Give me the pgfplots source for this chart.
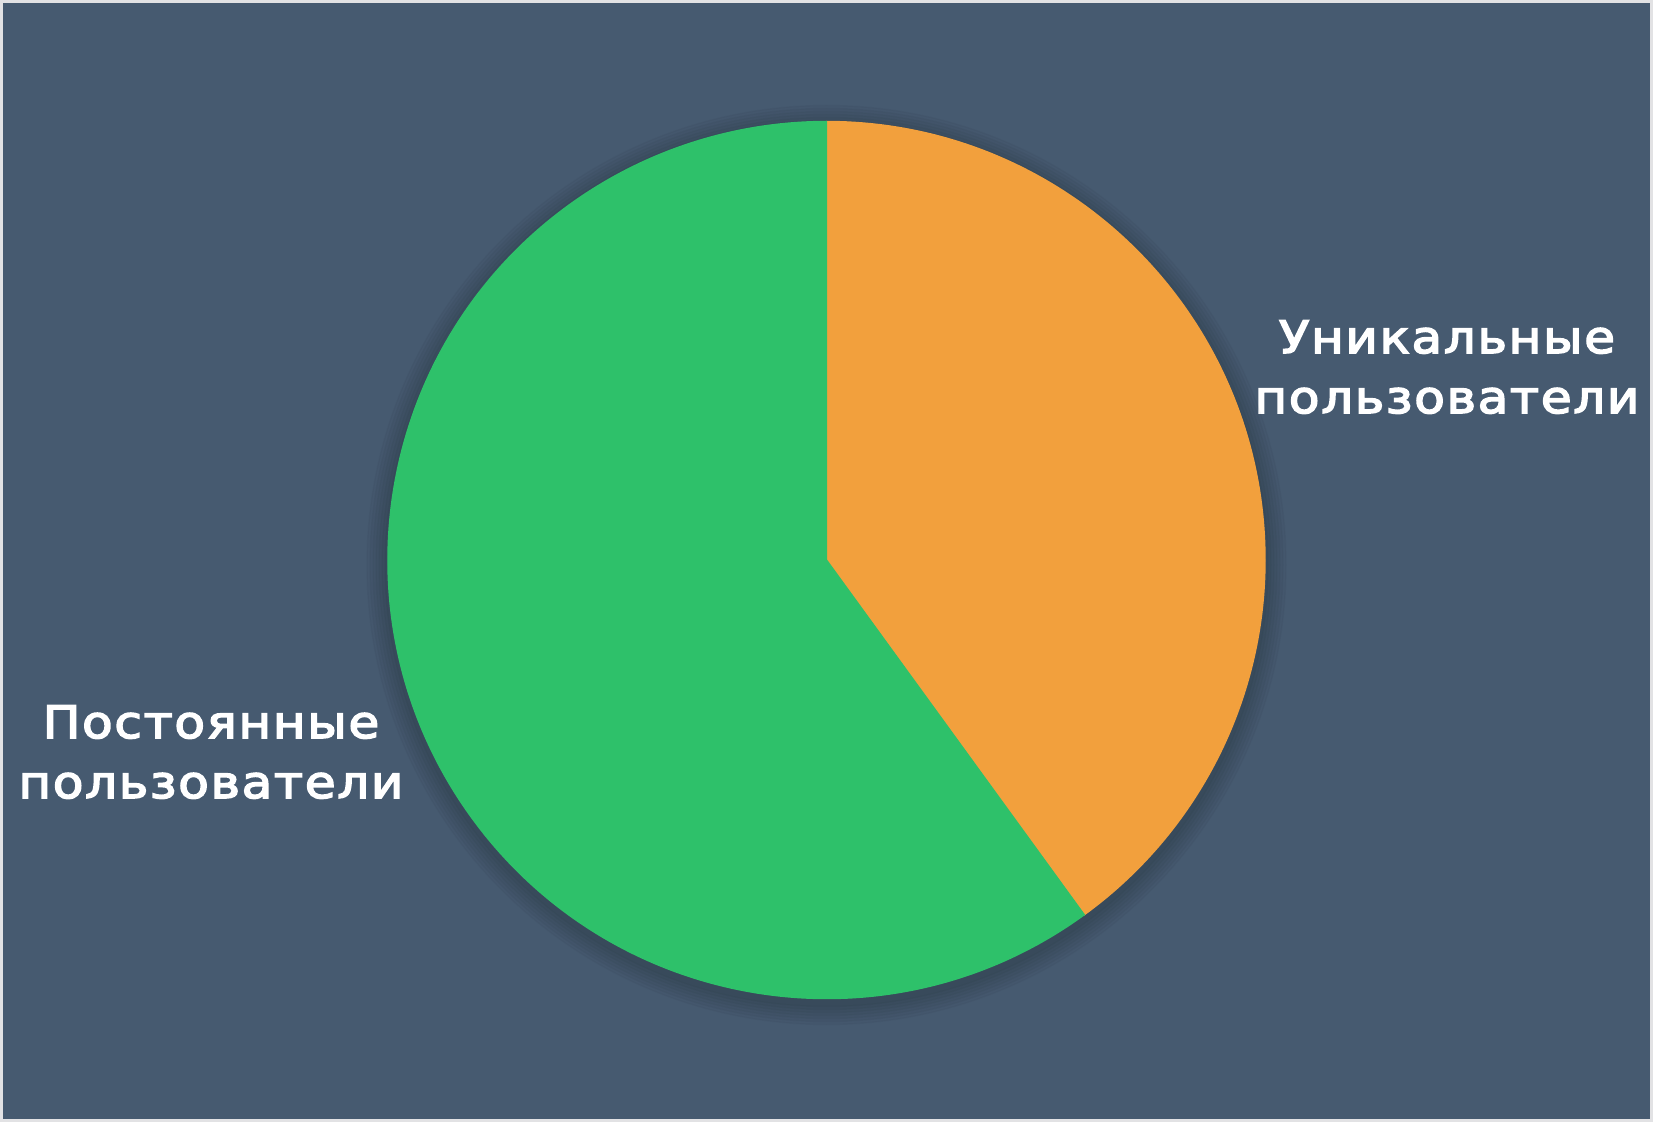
\documentclass[border=0pt]{standalone}
\usepackage{pgfplots}
\pgfplotsset{compat=1.18}
\usepackage{pgfplotstable}
\usepackage{fontspec}
\setmainfont{DejaVu Sans}
\newfontfamily\labelfont[FakeStretch=1.12, LetterSpace=3.8, FakeBold=3.5]{DejaVu Sans}

\definecolor{bgslate}{HTML}{465A70}
\definecolor{frame}{HTML}{E2E2E4}
\definecolor{uniq}{HTML}{F2A03D}
\definecolor{regular}{HTML}{2EC16A}

% pie slices: share in percent, share of slices drawn before it
\pgfplotstableread{
x y share before
826.5 562 40 0
}\uniqdata
\pgfplotstableread{
x y share before
826.5 562 60 40
}\regulardata

\newcommand{\R}{4.385cm}

\pgfplotsset{
  pie slice/.style={
    scatter, only marks, mark=*, mark size=0pt,
    mark options={draw=none, fill=none},
    point meta=explicit,
    visualization depends on={90-3.6*\thisrow{before} \as \sstart},
    visualization depends on={90-3.6*(\thisrow{before}+\thisrow{share}) \as \send},
    scatter/@pre marker code/.code={%
      \fill[#1] (0,0) -- (\sstart:\R)
        arc[start angle=\sstart, end angle=\send, radius=\R] -- cycle;},
    scatter/@post marker code/.code={},
  },
  pie shadow/.style={
    scatter, only marks, mark=*, mark size=0pt,
    mark options={draw=none, fill=none},
    point meta=explicit,
    scatter/@pre marker code/.code={%
      \foreach \k in {1,...,7}{%
        \fill[black, opacity=0.022] (0,-0.5mm) circle[radius=\R+\k*0.3mm];}},
    scatter/@post marker code/.code={},
  },
}

\begin{document}
\begin{tikzpicture}
\begin{axis}[
  width=16.53cm, height=11.22cm, scale only axis,
  xmin=0, xmax=1653, ymin=0, ymax=1122,
  hide axis, clip=false,
]
  \fill[frame] (axis cs:0,0) rectangle (axis cs:1653,1122);
  \fill[bgslate] (axis cs:3,3) rectangle (axis cs:1650,1119);

  \addplot[pie shadow] table[x=x, y=y, meta=share] {\uniqdata};
  \addplot[pie slice=uniq] table[x=x, y=y, meta=share] {\uniqdata};
  \addplot[pie slice=regular] table[x=x, y=y, meta=share] {\regulardata};

  \begin{scope}[every node/.style={text=white, font=\labelfont\fontsize{12.7pt}{15pt}\selectfont, anchor=base, inner sep=0pt}]
    \node at (axis cs:1447,769) {Уникальные};
    \node at (axis cs:1447,709) {пользователи};
    \node at (axis cs:211,384) {Постоянные};
    \node at (axis cs:211,324) {пользователи};
  \end{scope}
\end{axis}
\end{tikzpicture}
\end{document}
